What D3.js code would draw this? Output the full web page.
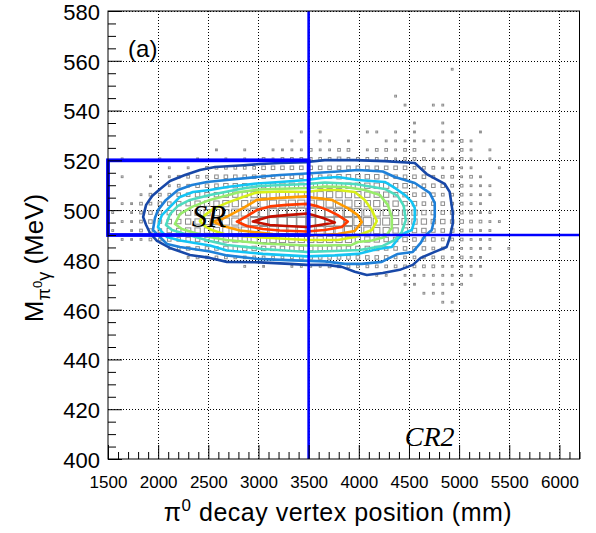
<!DOCTYPE html>
<html>
<head>
<meta charset="utf-8">
<script src="https://cdn.jsdelivr.net/npm/d3@7"></script>
<style>
  body { margin: 0; background: #fff; }
  svg { display: block; }
</style>
</head>
<body>
<div id="chart"></div>
<script>
// axis ranges and tick labels
const xDomain = [1500, 6200];
const yDomain = [400, 580];
const xTicks = [1500, 2000, 2500, 3000, 3500, 4000, 4500, 5000, 5500, 6000];
const yTicks = [400, 420, 440, 460, 480, 500, 520, 540, 560, 580];

// 2D histogram binning (50 x 50), box size level 1..9 per bin, '.' = empty
const binX0 = 1500, binW = 94, binY0 = 580, binH = 3.6, firstRow = 6;
const boxRows = [
  ".......... .......... .......... ......1... ......",
  ".......... .......... .......... .......... ......",
  ".......... .......... .......... .......... ......",
  ".......... .......... .......... 1......... ......",
  ".......... .......... .......... .1..11.... ......",
  ".......... .......... .......... .......... ......",
  ".......... .......... .......... ..1..1.... ......",
  ".......... .......... 1.1....11. 1.1..11..1 ......",
  ".......... .........1 ..11.1...1 111111121. ......",
  ".......... .1..1..111 121122.122 122.11.21. 1.....",
  ".1...1...1 ..1.1.2122 2222322222 122211121. 1.....",
  "......1.1. 2222223333 3333333333 332221211. .1....",
  ".1..1.1222 2333333333 3333444443 3333222121 ......",
  "....1.1223 3344444555 5555555555 4443332211 1.....",
  "...1222334 4455566666 6666666555 4433322211 1.....",
  ".112233445 5566677777 7777776665 5443332211 ......",
  "1.12334455 6667788889 9999888776 6554433221 1.....",
  ".112334455 6677788899 9999988877 6655443322 11....",
  "1.12334455 5667778888 8888887766 5544333221 1.....",
  ".111223344 4455566666 6666665554 4433322211 1.....",
  "......1233 3344444444 4444444443 3333222111 1.1...",
  "........12 2222222222 3333333333 2222221211 ......",
  ".......... ....1.1..1 1112222222 2222211111 ......",
  ".......... .......... ........11 .11111111. ......",
  ".......... .......... .......... .11.1111.. ......",
  ".......... .......... .......... ...111.... ......",
  ".......... .......... .......... .....11... ......",
  ".......... .......... .......... ......1... ......"
];

// contour lines [mm, MeV], outermost first
const contourDarkBlue = [[1850,497.2],[1880,502.1],[1940,505.7],[2020,508.5],[2118,511.7],[2267,514.1],[2416,516.1],[2566,517.3],[2815,517.9],[3014,518.5],[3213,518.9],[3482,519.3],[3661,520.1],[3960,520.1],[4259,519.7],[4558,518.9],[4677,514.5],[4857,510.5],[4906,507.3],[4936,499.2],[4936,494.4],[4906,488.8],[4876,485.2],[4757,483.2],[4617,480.8],[4538,478.0],[4408,476.0],[4239,474.7],[4080,473.9],[3960,475.2],[3831,477.2],[3681,478.0],[3482,478.0],[3313,478.4],[3014,479.0],[2685,479.2],[2516,480.8],[2317,482.0],[2118,484.8],[1988,487.6],[1918,490.8],[1880,494.0]];
const contourBlue = [[1948,492.0],[1968,496.8],[1998,500.0],[2078,504.1],[2197,508.1],[2337,510.1],[2486,511.3],[2685,512.1],[2984,513.3],[3213,514.1],[3482,514.7],[3791,515.5],[3990,516.1],[4239,515.5],[4359,513.3],[4558,510.9],[4707,506.9],[4757,502.9],[4757,497.2],[4727,492.0],[4657,489.6],[4617,486.8],[4538,483.2],[4388,482.4],[4229,479.2],[4030,478.4],[3861,478.4],[3661,479.4],[3343,479.8],[2984,480.4],[2685,481.8],[2516,483.4],[2217,485.2],[2088,486.4],[2018,489.2]];
const contourCyan = [[1998,493.2],[2018,496.0],[2038,498.0],[2118,501.3],[2217,505.3],[2347,507.3],[2516,508.1],[2685,509.3],[2984,510.7],[3213,511.3],[3482,512.1],[3631,512.9],[3791,513.3],[3990,512.1],[4259,511.3],[4359,508.9],[4458,506.1],[4528,503.3],[4558,500.9],[4558,496.0],[4528,492.0],[4458,490.8],[4388,488.4],[4329,485.2],[4189,484.4],[3990,482.4],[3761,481.8],[3482,481.4],[3044,482.4],[2685,483.8],[2516,485.8],[2217,487.8],[2088,489.2],[2038,491.2]];
const contourAqua = [[2078,494.0],[2118,498.4],[2197,501.7],[2317,504.1],[2516,506.1],[2815,508.5],[3014,509.7],[3482,510.5],[3661,511.1],[3960,510.5],[4259,508.5],[4388,505.7],[4448,501.7],[4468,496.0],[4428,491.2],[4359,488.0],[4239,485.6],[4010,484.0],[3761,483.6],[3482,483.2],[3044,484.4],[2685,486.0],[2516,487.6],[2267,490.4],[2138,492.0]];
const contourGreen = [[2167,494.4],[2217,498.4],[2337,501.3],[2516,504.1],[2815,507.3],[3014,508.3],[3482,508.9],[3661,509.5],[3861,509.3],[4060,508.1],[4209,506.1],[4289,502.1],[4329,497.2],[4329,492.8],[4259,489.2],[4130,487.8],[3990,487.2],[3930,486.0],[3631,485.8],[3482,485.8],[3044,486.6],[2685,488.0],[2516,489.2],[2367,490.8],[2237,492.4]];
const contourYellow = [[2416,495.6],[2466,498.0],[2546,500.4],[2685,502.9],[2845,505.3],[2984,507.1],[3213,507.5],[3482,507.3],[3631,508.1],[3791,508.1],[3960,507.3],[4060,504.1],[4130,500.0],[4179,495.6],[4130,492.0],[4030,490.4],[3960,489.2],[3791,488.0],[3482,488.0],[3044,489.0],[2685,490.0],[2536,492.0],[2466,493.6]];
const contourOrange = [[2546,495.4],[2636,496.4],[2715,498.0],[2845,500.8],[2984,504.1],[3213,504.9],[3482,505.5],[3562,504.9],[3731,504.1],[3890,500.8],[3990,498.0],[4030,495.2],[3960,491.6],[3791,490.4],[3482,489.8],[3143,490.4],[2815,491.8],[2646,493.6]];
const contourRed = [[2785,495.4],[2884,497.6],[2984,500.0],[3114,501.5],[3283,502.1],[3482,502.5],[3592,501.5],[3691,500.0],[3791,498.0],[3890,495.4],[3831,493.2],[3661,492.0],[3482,491.4],[3213,491.8],[3044,492.4],[2884,493.6]];
const contourDarkRed = [[2944,495.4],[3114,497.4],[3283,498.0],[3482,498.6],[3542,498.0],[3642,496.8],[3761,495.0],[3612,494.0],[3482,493.2],[3283,493.6],[3114,494.0]];
const contours = [contourDarkBlue, contourBlue, contourCyan, contourAqua, contourGreen, contourYellow, contourOrange, contourRed, contourDarkRed];
const contourColors = ["#1848a8", "#1f80d8", "#14c4f4", "#4edcc0", "#98ec6c", "#d8f018", "#ff9a00", "#ff3a00", "#c41000"];

// signal region box and cut lines
const srX = [1500, 3500];
const srY = [490, 520];
const cutX = 3500;
const cutY = 490;

const W = 596, H = 533;
const x = d3.scaleLinear().domain(xDomain).range([108, 579.5]);
const y = d3.scaleLinear().domain(yDomain).range([459, 11]);
const font = "'Liberation Sans', Arial, Helvetica, sans-serif";
const serif = "'Liberation Serif', 'Times New Roman', serif";

const svg = d3.select("#chart").append("svg")
  .attr("width", W)
  .attr("height", H);

// dotted grid
const grid = svg.append("g")
  .attr("stroke", "#000")
  .attr("stroke-width", 1)
  .attr("stroke-dasharray", "1,2");
grid.selectAll(".gx")
  .data(xTicks.slice(1))
  .join("line")
    .attr("x1", d => Math.round(x(d)) + 0.5)
    .attr("x2", d => Math.round(x(d)) + 0.5)
    .attr("y1", y(yDomain[0]))
    .attr("y2", y(yDomain[1]));
grid.selectAll(".gy")
  .data(yTicks.slice(1))
  .join("line")
    .attr("x1", x(xDomain[0]))
    .attr("x2", x(xDomain[1]))
    .attr("y1", d => Math.round(y(d)) + 0.5)
    .attr("y2", d => Math.round(y(d)) + 0.5);

// boxes of the 2D histogram
const cells = [];
boxRows.forEach((row, i) => {
  const s = row.replace(/ /g, "");
  for (let k = 0; k < s.length; k++) {
    if (s[k] !== ".") {
      cells.push({ xc: binX0 + binW * (k + 0.5), yc: binY0 - binH * (firstRow + i + 0.5), level: +s[k] });
    }
  }
});
const side = d3.scaleLinear().domain([1, 9]).range([1.8, 8.8]);
svg.append("g")
  .selectAll("rect")
  .data(cells)
  .join("rect")
    .attr("x", d => x(d.xc) - side(d.level) / 2)
    .attr("y", d => y(d.yc) - side(d.level) / 2)
    .attr("width", d => side(d.level))
    .attr("height", d => side(d.level))
    .attr("fill", "none")
    .attr("stroke", "#8c8c8c")
    .attr("stroke-width", 1);

// contour lines
const line = d3.line()
  .x(d => x(d[0]))
  .y(d => y(d[1]))
  .curve(d3.curveLinearClosed);
svg.append("g")
  .selectAll("path")
  .data(contours)
  .join("path")
    .attr("d", line)
    .attr("fill", "none")
    .attr("stroke", (d, i) => contourColors[i])
    .attr("stroke-width", 2.6)
    .attr("stroke-linejoin", "round");

// cut lines and signal region
svg.append("line")
  .attr("x1", x(cutX)).attr("x2", x(cutX))
  .attr("y1", y(yDomain[0])).attr("y2", y(yDomain[1]))
  .attr("stroke", "#0000ff").attr("stroke-width", 2.6);
svg.append("line")
  .attr("x1", x(cutX)).attr("x2", x(xDomain[1]))
  .attr("y1", y(cutY)).attr("y2", y(cutY))
  .attr("stroke", "#0000ff").attr("stroke-width", 2.6);
svg.append("rect")
  .attr("x", x(srX[0])).attr("y", y(srY[1]))
  .attr("width", x(srX[1]) - x(srX[0]))
  .attr("height", y(srY[0]) - y(srY[1]))
  .attr("fill", "none")
  .attr("stroke", "#0000ff").attr("stroke-width", 3.8);

// frame
svg.append("rect")
  .attr("x", x(xDomain[0])).attr("y", y(yDomain[1]))
  .attr("width", x(xDomain[1]) - x(xDomain[0]))
  .attr("height", y(yDomain[0]) - y(yDomain[1]))
  .attr("fill", "none")
  .attr("stroke", "#000").attr("stroke-width", 1);

// axes with inward ticks
const xMinor = d3.range(1500, 6201, 100).filter(d => d % 500 !== 0);
const yMinor = d3.range(400, 581, 5).filter(d => d % 20 !== 0);
const gx = svg.append("g").attr("transform", `translate(0,${y(yDomain[0])})`);
gx.call(d3.axisBottom(x).tickValues(xTicks).tickSize(-14).tickPadding(17).tickFormat(d3.format("d")));
gx.append("g").call(d3.axisBottom(x).tickValues(xMinor).tickSize(-7).tickFormat(""));
const gy = svg.append("g").attr("transform", `translate(${x(xDomain[0])},0)`);
gy.call(d3.axisLeft(y).tickValues(yTicks).tickSize(-14).tickPadding(8).tickFormat(d3.format("d")));
gy.append("g").call(d3.axisLeft(y).tickValues(yMinor).tickSize(-8).tickFormat(""));
svg.selectAll(".domain").remove();
svg.selectAll(".tick line").attr("stroke", "#000");
gx.selectAll("text").attr("font-family", font).attr("font-size", 17).attr("fill", "#000");
gy.selectAll("text").attr("font-family", font).attr("font-size", 22).attr("fill", "#000").attr("dy", "0.38em");

// axis titles
const xt = svg.append("text")
  .attr("x", 338).attr("y", 521)
  .attr("text-anchor", "middle")
  .attr("font-family", font).attr("font-size", 25)
  .attr("letter-spacing", 0.5);
xt.append("tspan").text("\u03c0");
xt.append("tspan").attr("dy", -10).attr("font-size", 17).text("0");
xt.append("tspan").attr("dy", 10).text(" decay vertex position (mm)");

const yt = svg.append("text")
  .attr("transform", "translate(43,258) rotate(-90)")
  .attr("text-anchor", "middle")
  .attr("font-family", font).attr("font-size", 26);
yt.append("tspan").text("M");
yt.append("tspan").attr("dy", 7).attr("font-size", 18).text("\u03c0");
yt.append("tspan").attr("dy", -8).attr("font-size", 13).text("0");
yt.append("tspan").attr("dy", 8).attr("font-size", 18).text("\u03b3");
yt.append("tspan").attr("dy", -7).text(" (MeV)");

// annotations
svg.append("text")
  .attr("x", x(1700)).attr("y", y(561.5))
  .attr("font-family", font).attr("font-size", 24)
  .text("(a)");
svg.append("text")
  .attr("x", x(2506)).attr("y", y(493.2))
  .attr("text-anchor", "middle")
  .attr("font-family", serif)
  .attr("font-style", "italic").attr("font-size", 31)
  .text("SR");
svg.append("text")
  .attr("x", x(4707)).attr("y", y(405.2))
  .attr("text-anchor", "middle")
  .attr("font-family", serif)
  .attr("font-style", "italic").attr("font-size", 28)
  .text("CR2");
</script>
</body>
</html>
